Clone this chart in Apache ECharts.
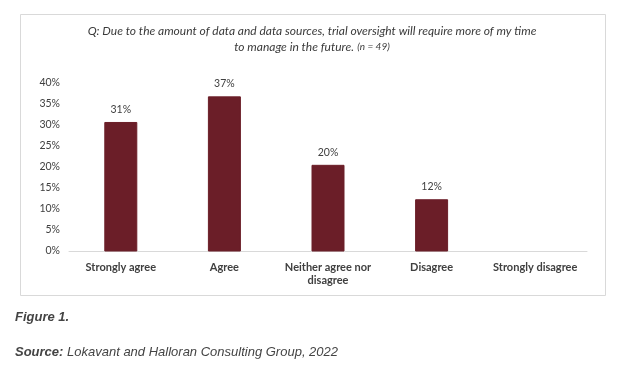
<!DOCTYPE html>
<html><head><meta charset="utf-8">
<script src="https://cdn.jsdelivr.net/npm/echarts@6/dist/echarts.min.js"></script>
<style>html,body{margin:0;padding:0;background:#fff}#c{width:619px;height:370px}</style>
</head><body><div id="c"></div>
<script>
const categories = ['Strongly agree', 'Agree', 'Neither agree nor\ndisagree', 'Disagree', 'Strongly disagree'];
const values = [30.6, 36.7, 20.4, 12.2, null];
const valueLabels = ['31%', '37%', '20%', '12%', ''];
const yTicks = [0, 5, 10, 15, 20, 25, 30, 35, 40];
const titleLine1 = 'Q: Due to the amount of data and data sources, trial oversight will require more of my time';
const titleLine2 = 'to manage in the future.';
const titleN = '(n = 49)';
const figureText = 'Figure 1.';
const sourceLabel = 'Source:';
const sourceText = ' Lokavant and Halloran Consulting Group, 2022';

const chart = echarts.init(document.getElementById('c'), null, {renderer: 'canvas'});
const font = 'Lato, "Open Sans", sans-serif';
const capFont = '"Liberation Sans", Arial, sans-serif';
chart.setOption({
  animation: false,
  backgroundColor: '#fff',
  graphic: [
    {type: 'rect', shape: {x: 20.5, y: 14.5, width: 585, height: 281}, style: {fill: 'none', stroke: '#d9d9d9', lineWidth: 1}, z: -1},
    {type: 'text', x: 312, y: 31, style: {text: titleLine1, font: 'italic 12px ' + font, fill: '#3a3a3a', textAlign: 'center', textVerticalAlign: 'middle'}},
    {type: 'text', x: 312, y: 47, style: {text: '{a|' + titleLine2 + '} {b|' + titleN + '}', textAlign: 'center', textVerticalAlign: 'middle',
      rich: {a: {font: 'italic 12px ' + font, fill: '#3a3a3a'}, b: {font: 'italic 10px ' + font, fill: '#3a3a3a'}}}},
    {type: 'text', x: 15, y: 317, style: {text: figureText, font: 'italic bold 13px ' + capFont, fill: '#444', textVerticalAlign: 'middle'}},
    {type: 'text', x: 15, y: 352, style: {text: '{a|' + sourceLabel + '}{b|' + sourceText + '}', textVerticalAlign: 'middle',
      rich: {a: {font: 'italic bold 13px ' + capFont, fill: '#444'}, b: {font: 'italic 13px ' + capFont, fill: '#444'}}}}
  ],
  grid: {left: 69, right: 32, top: 83, bottom: 119, containLabel: false},
  xAxis: {
    type: 'category', data: categories,
    axisLine: {lineStyle: {color: '#d9d9d9'}},
    axisTick: {show: false},
    axisLabel: {color: '#404040', fontFamily: font, fontSize: 11, fontWeight: 'bold', margin: 10, lineHeight: 13, interval: 0}
  },
  yAxis: {
    type: 'value', min: 0, max: 40, interval: 5,
    splitLine: {show: false}, axisLine: {show: false}, axisTick: {show: false},
    axisLabel: {color: '#404040', fontFamily: font, fontSize: 10.5, margin: 9, formatter: v => yTicks.includes(v) ? v + '%' : ''}
  },
  series: [{
    type: 'bar', data: values, barWidth: 32,
    itemStyle: {color: '#6b1e28', borderColor: '#6b1e28'},
    label: {show: true, position: 'top', distance: 7, color: '#404040', fontFamily: font, fontSize: 10.5,
      formatter: p => valueLabels[p.dataIndex]}
  }]
});
</script></body></html>
